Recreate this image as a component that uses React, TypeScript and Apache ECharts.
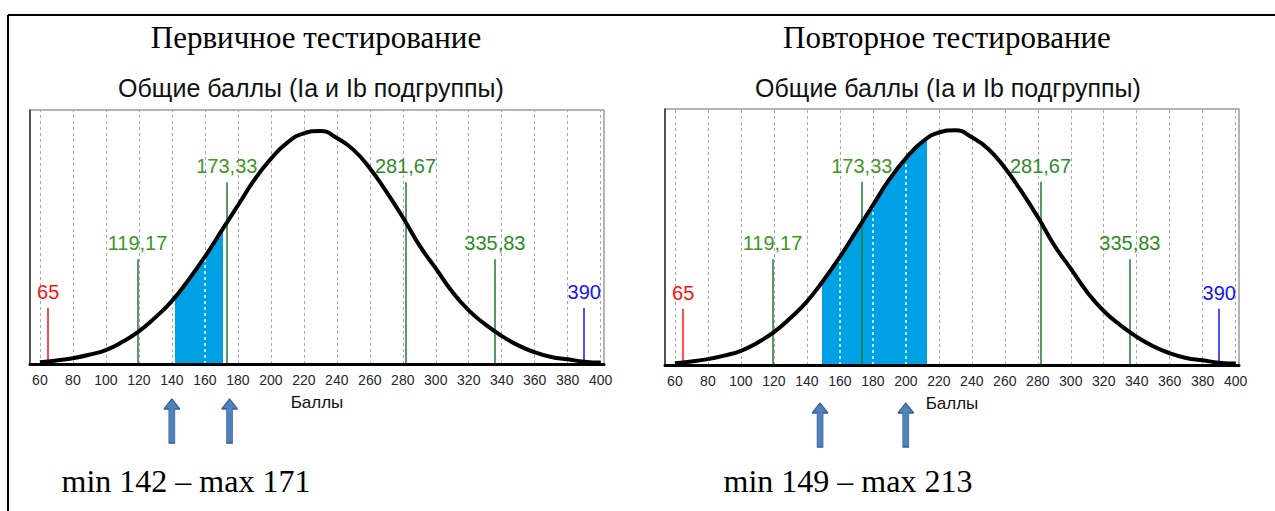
import React, { useEffect, useRef } from "react";
import * as echarts from "echarts";

// Score axis tick labels
const scoreTicks = [60, 80, 100, 120, 140, 160, 180, 200, 220, 240, 260, 280, 300, 320, 340, 360, 380, 400];

// Fitted distribution curve (relative height, peak = 100)
const curveScores = [60, 70, 80, 90, 100, 110, 120, 130, 140, 150, 160, 170, 180, 190, 200, 210, 220, 230, 240, 250, 260, 270, 280, 290, 300, 310, 320, 330, 340, 350, 360, 370, 380, 390, 400];
const curveHeights = [0.8, 1.5, 2.5, 4, 6, 9.5, 14, 20, 27, 36, 46, 57, 68, 79, 88, 95, 99, 100, 97, 92, 84, 74, 63, 51, 41, 31, 23, 17, 12, 8, 5, 3, 2, 1, 0.6];

// Boundary markers: min, mean ± σ, mean ± 2σ, max
const boundaryScores = [65, 119.17, 173.33, 281.67, 335.83, 390];
const boundaryHeights = [24, 45, 78, 78, 45, 24];

// Observed score ranges of the group
const firstRange = [142, 171];
const repeatRange = [149, 213];

// Pointer arrows under the axis
const firstArrows = [140, 175];
const repeatArrows = [148, 200];

const panelTitles = ["Первичное тестирование", "Повторное тестирование"];
const chartTitle = "Общие баллы (Ia и Ib подгруппы)";
const axisTitle = "Баллы";

const boundaryColors = ["#ff1010", "#1f7a35", "#1f7a35", "#1f7a35", "#1f7a35", "#1414ff"];
const boundaryLabelColors = ["#ff1010", "#3d9624", "#3d9624", "#2f8a2a", "#2f8a2a", "#1414ff"];
const shadeColor = "#00a1e4";
const arrowPath = "path://M8,0 L16,10 L11,10 L11,44 L5,44 L5,10 L0,10 Z";

const panels = [
  { grid: { left: 30, right: 671, top: 110, bottom: 147 }, titleX: 316, subX: 311, captionX: 186, arrowOffset: 57, range: firstRange, arrows: firstArrows },
  { grid: { left: 665, right: 36, top: 109, bottom: 146 }, titleX: 947, subX: 948, captionX: 848, arrowOffset: 60, range: repeatRange, arrows: repeatArrows },
];

const curveData = curveScores.map((s, i) => [s, curveHeights[i]]);
const heightAt = (s: number) => curveHeights[curveScores.indexOf(s)];
const fmt = (v: number) => String(v).replace(".", ",");

function buildOption() {
  const grids: any[] = [];
  const xAxes: any[] = [];
  const yAxes: any[] = [];
  const series: any[] = [];
  const visualMaps: any[] = [];
  const graphics: any[] = [];

  panels.forEach((p, k) => {
    grids.push({ ...p.grid, show: true, backgroundColor: "#fff", borderColor: "#9a9a9a", borderWidth: 1.5 });
    xAxes.push({
      type: "value",
      gridIndex: k,
      min: 54,
      max: 402,
      z: 6,
      axisLine: { show: true, lineStyle: { color: "#000", width: 3 } },
      axisTick: { show: false },
      splitLine: { show: false },
      axisLabel: { customValues: scoreTicks, color: "#262630", fontSize: 14, fontFamily: "Liberation Sans, Arial", margin: 9 },
      name: axisTitle,
      nameLocation: "middle",
      nameGap: 30,
      nameTextStyle: { color: "#111", fontSize: 17, fontFamily: "Liberation Sans, Arial" },
    });
    yAxes.push({
      type: "value",
      gridIndex: k,
      min: 0,
      max: 109,
      axisLine: { show: true, lineStyle: { color: "#333", width: 1.5 } },
      axisTick: { show: false },
      axisLabel: { show: false },
      splitLine: { show: false },
    });

    const base = { type: "line", xAxisIndex: k, yAxisIndex: k, data: curveData, smooth: true, showSymbol: false, silent: true };

    // dotted grid lines
    series.push({
      ...base,
      lineStyle: { opacity: 0 },
      z: 1,
      markLine: {
        silent: true,
        z: 1,
        symbol: "none",
        label: { show: false },
        lineStyle: { color: "#a8a8a8", type: [3, 3], width: 1 },
        data: scoreTicks.map((t) => ({ xAxis: t })),
      },
    });

    // shaded range under the curve
    const shadeIndex = series.length;
    series.push({
      ...base,
      lineStyle: { width: 0, opacity: 0 },
      areaStyle: { opacity: 1 },
      z: 2,
      markLine: {
        silent: true,
        z: 3,
        symbol: "none",
        label: { show: false },
        lineStyle: { color: "#ffffff", type: [3, 3], width: 1.5 },
        data: scoreTicks
          .filter((t) => t > p.range[0] && t < p.range[1])
          .map((t) => [{ coord: [t, 0] }, { coord: [t, heightAt(t)] }]),
      },
    });
    visualMaps.push({
      type: "piecewise",
      show: false,
      dimension: 0,
      seriesIndex: shadeIndex,
      pieces: [{ gte: p.range[0], lte: p.range[1], color: shadeColor }],
      outOfRange: { color: "rgba(0,0,0,0)" },
    });

    // boundary markers with value labels
    series.push({
      ...base,
      lineStyle: { opacity: 0 },
      z: 4,
      markLine: {
        silent: true,
        z: 4,
        symbol: "none",
        data: boundaryScores.map((v, i) => [
          {
            coord: [v, 0],
            lineStyle: { color: boundaryColors[i], width: 1.5, type: "solid" },
            label: {
              show: true,
              position: "end",
              distance: 6,
              formatter: fmt(v),
              color: boundaryLabelColors[i],
              fontSize: 20,
              fontFamily: "Liberation Sans, Arial",
            },
          },
          { coord: [v, boundaryHeights[i]] },
        ]),
      },
    });

    // fitted curve
    series.push({
      ...base,
      z: 5,
      lineStyle: { color: "#000", width: 4 },
      markPoint: {
        silent: true,
        z: 7,
        label: { show: false },
        itemStyle: { color: "#4f81bd", borderColor: "#385d8a", borderWidth: 1 },
        data: p.arrows.map((a) => ({
          coord: [a, 0],
          symbol: arrowPath,
          symbolSize: [16, 44],
          symbolOffset: [0, p.arrowOffset],
        })),
      },
    });

    graphics.push(
      {
        type: "text",
        x: p.titleX,
        y: 37,
        style: { text: panelTitles[k], font: "31px 'Liberation Serif', 'Times New Roman', serif", fill: "#000", align: "center", verticalAlign: "middle" },
      },
      {
        type: "text",
        x: p.subX,
        y: 88,
        style: { text: chartTitle, font: "25px 'Liberation Sans', Arial, sans-serif", fill: "#111", align: "center", verticalAlign: "middle" },
      },
      {
        type: "text",
        x: p.captionX,
        y: 481,
        style: {
          text: `min ${p.range[0]} – max ${p.range[1]}`,
          font: "32px 'Liberation Serif', 'Times New Roman', serif",
          fill: "#000",
          align: "center",
          verticalAlign: "middle",
        },
      }
    );
  });

  // page frame
  graphics.push(
    { type: "line", shape: { x1: 8, y1: 15, x2: 1275, y2: 15 }, style: { stroke: "#000", lineWidth: 2 } },
    { type: "line", shape: { x1: 8, y1: 15, x2: 8, y2: 511 }, style: { stroke: "#000", lineWidth: 2 } }
  );

  return {
    animation: false,
    backgroundColor: "#fff",
    grid: grids,
    xAxis: xAxes,
    yAxis: yAxes,
    visualMap: visualMaps,
    series,
    graphic: graphics,
  };
}

export default function App() {
  const ref = useRef<HTMLDivElement>(null);
  useEffect(() => {
    if (!ref.current) return;
    const chart = echarts.init(ref.current, undefined, { renderer: "svg" });
    chart.setOption(buildOption() as any);
    return () => chart.dispose();
  }, []);
  return <div ref={ref} style={{ position: "absolute", left: 0, top: 0, width: 1275, height: 511 }} />;
}
